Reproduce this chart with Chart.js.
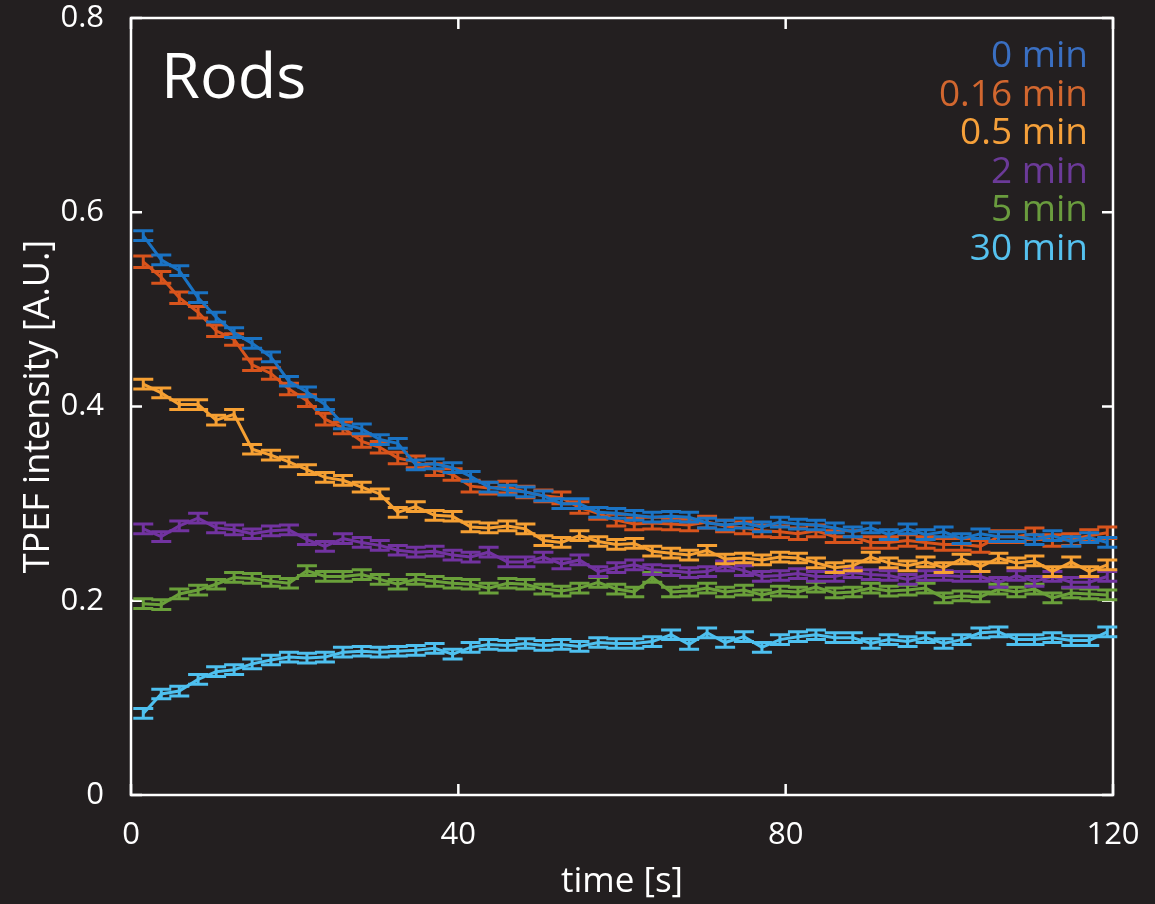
<!DOCTYPE html>
<html>
<head>
<meta charset="utf-8">
<title>Rods - TPEF intensity</title>
<script src="https://cdn.jsdelivr.net/npm/chart.js@4.4.0/dist/chart.umd.min.js"></script>
<style>
  html, body { margin: 0; padding: 0; background: #231f20; }
  #wrap { width: 1155px; height: 904px; }
</style>
</head>
<body>
<div id="wrap"><canvas id="tpefChart" width="1155" height="904"></canvas></div>
<script>
// Temps de mesure (s)
const times = [1.5, 3.7, 5.9, 8.2, 10.4, 12.6, 14.8, 17.1, 19.3, 21.5,
  23.7, 25.9, 28.2, 30.4, 32.6, 34.8, 37.1, 39.3, 41.5, 43.7,
  46.0, 48.2, 50.4, 52.6, 54.8, 57.1, 59.3, 61.5, 63.7, 66.0,
  68.2, 70.4, 72.6, 74.9, 77.1, 79.3, 81.5, 83.7, 86.0, 88.2,
  90.4, 92.6, 94.9, 97.1, 99.3, 101.5, 103.8, 106.0, 108.2, 110.4,
  112.6, 114.9, 117.1, 119.3];

const seriesLabels = ['0 min', '0.16 min', '0.5 min', '2 min', '5 min', '30 min'];

// Intensités
const min0 = [0.576, 0.551, 0.540, 0.512, 0.492, 0.476, 0.465, 0.451, 0.426, 0.415,
  0.402, 0.382, 0.377, 0.366, 0.362, 0.340, 0.341, 0.337, 0.328, 0.317,
  0.314, 0.312, 0.308, 0.300, 0.300, 0.291, 0.290, 0.288, 0.286, 0.287,
  0.286, 0.280, 0.278, 0.280, 0.276, 0.281, 0.279, 0.278, 0.275, 0.271,
  0.275, 0.268, 0.274, 0.268, 0.271, 0.264, 0.269, 0.266, 0.266, 0.263,
  0.267, 0.261, 0.265, 0.260];
const min016 = [0.549, 0.533, 0.512, 0.497, 0.478, 0.469, 0.443, 0.434, 0.418, 0.406,
  0.387, 0.378, 0.364, 0.358, 0.347, 0.343, 0.335, 0.330, 0.318, 0.316,
  0.317, 0.312, 0.308, 0.306, 0.296, 0.290, 0.283, 0.279, 0.280, 0.279,
  0.278, 0.281, 0.277, 0.275, 0.272, 0.271, 0.269, 0.272, 0.266, 0.266,
  0.260, 0.260, 0.262, 0.260, 0.258, 0.258, 0.256, 0.266, 0.266, 0.269,
  0.262, 0.263, 0.267, 0.270];
const min05 = [0.423, 0.414, 0.402, 0.402, 0.386, 0.392, 0.356, 0.350, 0.343, 0.335,
  0.327, 0.324, 0.317, 0.310, 0.291, 0.297, 0.288, 0.287, 0.276, 0.275,
  0.277, 0.274, 0.262, 0.260, 0.267, 0.261, 0.258, 0.259, 0.251, 0.249,
  0.247, 0.252, 0.243, 0.244, 0.242, 0.245, 0.244, 0.239, 0.234, 0.236,
  0.245, 0.239, 0.236, 0.240, 0.234, 0.243, 0.235, 0.244, 0.239, 0.241,
  0.230, 0.240, 0.230, 0.237];
const min2 = [0.274, 0.266, 0.277, 0.285, 0.275, 0.273, 0.269, 0.272, 0.273, 0.263,
  0.256, 0.264, 0.260, 0.257, 0.252, 0.250, 0.251, 0.247, 0.245, 0.250,
  0.240, 0.240, 0.245, 0.238, 0.242, 0.230, 0.234, 0.237, 0.232, 0.231,
  0.229, 0.230, 0.236, 0.231, 0.225, 0.226, 0.228, 0.225, 0.225, 0.229,
  0.227, 0.226, 0.222, 0.226, 0.226, 0.225, 0.225, 0.219, 0.226, 0.220,
  0.225, 0.219, 0.219, 0.225];
const min5 = [0.197, 0.196, 0.207, 0.211, 0.217, 0.224, 0.223, 0.220, 0.218, 0.231,
  0.225, 0.225, 0.227, 0.222, 0.217, 0.222, 0.220, 0.218, 0.217, 0.213,
  0.218, 0.217, 0.212, 0.210, 0.213, 0.219, 0.212, 0.209, 0.224, 0.209,
  0.210, 0.213, 0.209, 0.211, 0.206, 0.210, 0.209, 0.214, 0.208, 0.209,
  0.213, 0.210, 0.211, 0.213, 0.203, 0.205, 0.204, 0.212, 0.209, 0.212,
  0.203, 0.208, 0.207, 0.206];
const min30 = [0.084, 0.104, 0.107, 0.119, 0.127, 0.129, 0.135, 0.139, 0.142, 0.141,
  0.142, 0.147, 0.148, 0.147, 0.148, 0.149, 0.151, 0.145, 0.152, 0.155,
  0.154, 0.156, 0.154, 0.155, 0.153, 0.157, 0.156, 0.156, 0.158, 0.165,
  0.155, 0.167, 0.157, 0.163, 0.152, 0.160, 0.163, 0.165, 0.162, 0.162,
  0.156, 0.160, 0.158, 0.162, 0.156, 0.160, 0.167, 0.168, 0.160, 0.160,
  0.162, 0.159, 0.159, 0.168];

// Demi-largeur des barres d'erreur, une par série
const errHalf = [0.005, 0.006, 0.005, 0.005, 0.005, 0.005];

const xTicks = [0, 40, 80, 120];
const yTicks = [0, 0.2, 0.4, 0.6, 0.8];

const allSeries = [min0, min016, min05, min2, min5, min30];
const lineColors = ['#1a73c4', '#d8541c', '#f6a033', '#7233a0', '#6aa03a', '#4ec0ef'];
const legendColors = ['#3a6fc2', '#d2672f', '#f5a03a', '#6b3a98', '#6a9c3e', '#55c1ee'];

const FONT = "'Open Sans', sans-serif";
const BG = '#231f20';
Chart.defaults.font.family = FONT;

// Fond sombre
const bgPlugin = {
  id: 'bg',
  beforeDraw(chart) {
    const ctx = chart.ctx;
    ctx.save();
    ctx.fillStyle = BG;
    ctx.fillRect(0, 0, chart.width, chart.height);
    ctx.restore();
  }
};

// Cadre blanc + graduations vers l'intérieur
const framePlugin = {
  id: 'frame',
  beforeDatasetsDraw(chart) {
    const { ctx, chartArea: a, scales: { x, y } } = chart;
    const len = 11;
    ctx.save();
    ctx.strokeStyle = '#ffffff';
    ctx.lineWidth = 2.5;
    ctx.strokeRect(a.left, a.top, a.right - a.left, a.bottom - a.top);
    ctx.beginPath();
    xTicks.forEach(v => {
      const px = x.getPixelForValue(v);
      ctx.moveTo(px, a.bottom); ctx.lineTo(px, a.bottom - len);
      ctx.moveTo(px, a.top); ctx.lineTo(px, a.top + len);
    });
    yTicks.forEach(v => {
      const py = y.getPixelForValue(v);
      ctx.moveTo(a.left, py); ctx.lineTo(a.left + len, py);
      ctx.moveTo(a.right, py); ctx.lineTo(a.right - len, py);
    });
    ctx.stroke();
    ctx.restore();
  }
};

// Barres d'erreur, dessinées avec chaque série
const errorBarPlugin = {
  id: 'errorBars',
  afterDatasetDraw(chart, args) {
    const { ctx, scales: { x, y } } = chart;
    const i = args.index;
    const vals = allSeries[i];
    const e = errHalf[i];
    const cap = 10;
    ctx.save();
    ctx.strokeStyle = lineColors[i];
    ctx.lineWidth = 3;
    ctx.beginPath();
    times.forEach((t, k) => {
      const px = x.getPixelForValue(t);
      const top = y.getPixelForValue(vals[k] + e);
      const bot = y.getPixelForValue(vals[k] - e);
      ctx.moveTo(px, top); ctx.lineTo(px, bot);
      ctx.moveTo(px - cap, top); ctx.lineTo(px + cap, top);
      ctx.moveTo(px - cap, bot); ctx.lineTo(px + cap, bot);
    });
    ctx.stroke();
    ctx.restore();
  }
};

// Titre "Rods" et légende en texte coloré
const textPlugin = {
  id: 'panelText',
  afterDraw(chart) {
    const ctx = chart.ctx;
    ctx.save();
    ctx.fillStyle = '#ffffff';
    ctx.font = '63px ' + FONT;
    ctx.textAlign = 'left';
    ctx.textBaseline = 'alphabetic';
    ctx.fillText('Rods', 161, 98);

    ctx.font = '37px ' + FONT;
    ctx.textAlign = 'right';
    seriesLabels.forEach((lab, i) => {
      ctx.fillStyle = legendColors[i];
      ctx.fillText(lab, 1088, 67 + i * 38.6);
    });
    ctx.restore();
  }
};

const datasets = allSeries.map((vals, i) => ({
  label: seriesLabels[i],
  data: times.map((t, k) => ({ x: t, y: vals[k] })),
  borderColor: lineColors[i],
  backgroundColor: lineColors[i],
  borderWidth: 3,
  pointRadius: 0,
  tension: 0,
  fill: false
}));

const config = {
  type: 'line',
  data: { datasets: datasets },
  options: {
    responsive: false,
    animation: false,
    layout: { padding: { top: 0, right: 42, left: 0, bottom: 0 } },
    plugins: {
      legend: { display: false },
      tooltip: { enabled: false }
    },
    scales: {
      x: {
        type: 'linear',
        min: 0,
        max: 120,
        afterBuildTicks: s => { s.ticks = xTicks.map(v => ({ value: v })); },
        afterFit: s => { s.height = 109; },
        grid: { display: false },
        border: { display: false },
        ticks: { color: '#ffffff', font: { size: 31 }, padding: 14, maxRotation: 0 },
        title: {
          display: true,
          text: 'time [s]',
          color: '#ffffff',
          font: { size: 35 },
          padding: { top: 0, bottom: 1 }
        }
      },
      y: {
        type: 'linear',
        min: 0,
        max: 0.8,
        afterBuildTicks: s => { s.ticks = yTicks.map(v => ({ value: v })); },
        // largeur fixe et marge haute réduite pour caler la zone de tracé
        afterFit: s => { s.width = 131; s.paddingTop = 18; s.paddingBottom = 0; },
        grid: { display: false },
        border: { display: false },
        ticks: { color: '#ffffff', font: { size: 31 }, padding: 19 },
        title: {
          display: true,
          text: 'TPEF intensity [A.U.]',
          color: '#ffffff',
          font: { size: 36 },
          padding: { top: 17, bottom: 0 }
        }
      }
    }
  },
  plugins: [bgPlugin, framePlugin, errorBarPlugin, textPlugin]
};

new Chart(document.getElementById('tpefChart'), config);
</script>
</body>
</html>
